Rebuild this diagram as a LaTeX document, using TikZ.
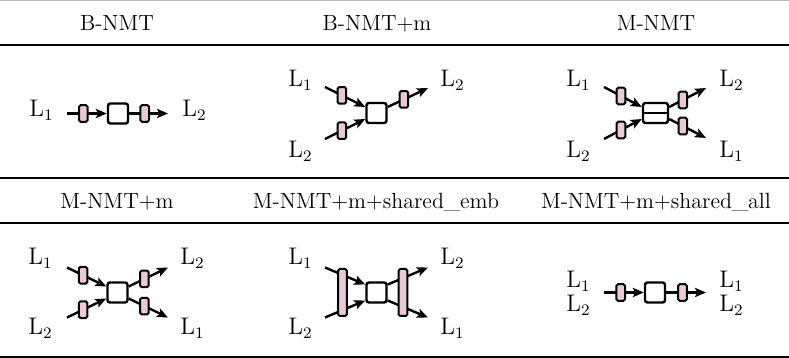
\documentclass[tikz,border=0pt]{standalone}
\usetikzlibrary{arrows.meta,calc}
\definecolor{embpink}{RGB}{235,200,214}
\tikzset{
  lbl/.style={inner sep=0pt, anchor=base west, font=\fontsize{11.5}{13}\selectfont},
  hdr/.style={inner sep=0pt, anchor=base, font=\fontsize{11}{13}\selectfont},
  rulez/.style={line width=1pt},
  emb/.style={draw, line width=1pt, fill=embpink, rounded corners=0.8pt, minimum width=4.3pt, minimum height=8.3pt, inner sep=0pt},
  tallemb/.style={emb, minimum height=23.5pt},
  enc/.style={draw, line width=1.2pt, fill=white, rounded corners=1.2pt, minimum width=10pt, minimum height=10pt, inner sep=0pt},
  wideenc/.style={enc, minimum width=12.5pt},
  conn/.style={line width=1.2pt, -{Stealth[length=5.5pt,width=4.6pt,inset=1.2pt]}},
  plainln/.style={line width=1.2pt},
}
\begin{document}
\begin{tikzpicture}[x=0.5pt,y=-0.5pt]
\useasboundingbox (0,0) rectangle (789,358);
% rules
\draw[line width=0.5pt, gray!55] (0,0.5) -- (789,0.5);
\draw[rulez] (0,45) -- (789,45);
\draw[rulez] (0,178) -- (789,178);
\draw[rulez] (0,223) -- (789,223);
\draw[rulez] (0,357) -- (789,357);
% headers
\node[hdr] (h1) at (117,31) {B-NMT};
\node[hdr] (h2) at (377,31) {B-NMT+m};
\node[hdr] (h3) at (656,31) {M-NMT};
\node[hdr] (h4) at (117,209) {M-NMT+m};
\node[hdr] (h5) at (376,209) {M-NMT+m+shared\_emb};
\node[hdr] (h6) at (656,209) {M-NMT+m+shared\_all};

% ---- Diagram A: B-NMT
\node[enc] (a-sq) at (118,113.5) {};
\coordinate (a-s) at ($(a-sq)+(-51,0)$);
\coordinate (a-t) at ($(a-sq)+(50,0)$);
\draw[conn] (a-s) -- node[emb,pos=.41] (a-e1) {} (a-sq);
\draw[conn] (a-sq) -- node[emb,pos=.4] (a-e2) {} (a-t);
\node[lbl] (a-l1) at (29,117) {$\mathrm{L}_1$};
\node[lbl] (a-l2) at (182,117) {$\mathrm{L}_2$};

% ---- Diagram B: B-NMT+m
\node[enc] (b-sq) at (376.5,113) {};
\coordinate (b-s1) at ($(b-sq)+(-51.5,-26)$);
\coordinate (b-s2) at ($(b-sq)+(-51.5,26)$);
\coordinate (b-t1) at ($(b-sq)+(51.5,-25)$);
\draw[conn] (b-s1) -- node[emb,pos=.42] (b-e1) {} ([yshift=3pt]b-sq.west);
\draw[conn] (b-s2) -- node[emb,pos=.42] (b-e2) {} ([yshift=-3pt]b-sq.west);
\draw[conn] ([yshift=3pt]b-sq.east) -- node[emb,pos=.4] (b-e3) {} (b-t1);
\node[lbl] (b-l1) at (288,87) {$\mathrm{L}_1$};
\node[lbl] (b-l2) at (440,87) {$\mathrm{L}_2$};
\node[lbl] (b-l3) at (288,158) {$\mathrm{L}_2$};

% ---- Diagram C: M-NMT
\node[wideenc] (c-sq) at (655.5,113) {};
\draw[plainln] (c-sq.west) -- (c-sq.east);
\coordinate (c-s1) at ($(c-sq)+(-51.5,-26)$);
\coordinate (c-s2) at ($(c-sq)+(-51.5,26)$);
\coordinate (c-t1) at ($(c-sq)+(50.5,-25)$);
\coordinate (c-t2) at ($(c-sq)+(50.5,25)$);
\draw[conn] (c-s1) -- node[emb,pos=.45] (c-e1) {} ([yshift=3pt]c-sq.west);
\draw[conn] (c-s2) -- node[emb,pos=.45] (c-e2) {} ([yshift=-3pt]c-sq.west);
\draw[conn] ([yshift=3pt]c-sq.east) -- node[emb,pos=.37] (c-e3) {} (c-t1);
\draw[conn] ([yshift=-3pt]c-sq.east) -- node[emb,pos=.37] (c-e4) {} (c-t2);
\node[lbl] (c-l1) at (566,87) {$\mathrm{L}_1$};
\node[lbl] (c-l2) at (719,87) {$\mathrm{L}_2$};
\node[lbl] (c-l3) at (566,158) {$\mathrm{L}_2$};
\node[lbl] (c-l4) at (719,158) {$\mathrm{L}_1$};

% ---- Diagram D: M-NMT+m
\node[enc] (d-sq) at (117.5,292.5) {};
\coordinate (d-s1) at ($(d-sq)+(-50.5,-25)$);
\coordinate (d-s2) at ($(d-sq)+(-50.5,25)$);
\coordinate (d-t1) at ($(d-sq)+(50.5,-25)$);
\coordinate (d-t2) at ($(d-sq)+(50.5,25)$);
\draw[conn] (d-s1) -- node[emb,pos=.41] (d-e1) {} ([yshift=3pt]d-sq.west);
\draw[conn] (d-s2) -- node[emb,pos=.41] (d-e2) {} ([yshift=-3pt]d-sq.west);
\draw[conn] ([yshift=3pt]d-sq.east) -- node[emb,pos=.4] (d-e3) {} (d-t1);
\draw[conn] ([yshift=-3pt]d-sq.east) -- node[emb,pos=.4] (d-e4) {} (d-t2);
\node[lbl] (d-l1) at (28,265) {$\mathrm{L}_1$};
\node[lbl] (d-l2) at (180,265) {$\mathrm{L}_2$};
\node[lbl] (d-l3) at (28,335) {$\mathrm{L}_2$};
\node[lbl] (d-l4) at (180,335) {$\mathrm{L}_1$};

% ---- Diagram E: M-NMT+m+shared_emb
\node[enc] (e-sq) at (376.5,292.5) {};
\coordinate (e-s1) at ($(e-sq)+(-51.5,-25)$);
\coordinate (e-s2) at ($(e-sq)+(-51.5,25)$);
\coordinate (e-t1) at ($(e-sq)+(51.5,-25)$);
\coordinate (e-t2) at ($(e-sq)+(51.5,25)$);
\draw[conn] (e-s1) -- ([yshift=4pt]e-sq.west);
\draw[conn] (e-s2) -- ([yshift=-4pt]e-sq.west);
\draw[conn] ([yshift=4pt]e-sq.east) -- (e-t1);
\draw[conn] ([yshift=-4pt]e-sq.east) -- (e-t2);
\node[tallemb] (e-e1) at ($(e-sq)+(-34,0)$) {};
\node[tallemb] (e-e2) at ($(e-sq)+(26.5,0)$) {};
\node[lbl] (e-l1) at (288,265) {$\mathrm{L}_1$};
\node[lbl] (e-l2) at (440,265) {$\mathrm{L}_2$};
\node[lbl] (e-l3) at (288,335) {$\mathrm{L}_2$};
\node[lbl] (e-l4) at (440,335) {$\mathrm{L}_1$};

% ---- Diagram F: M-NMT+m+shared_all
\node[enc] (f-sq) at (655,292.5) {};
\coordinate (f-s) at ($(f-sq)+(-51,0)$);
\coordinate (f-t) at ($(f-sq)+(51,0)$);
\draw[conn] (f-s) -- node[emb,pos=.42] (f-e1) {} (f-sq);
\draw[conn] (f-sq) -- node[emb,pos=.41] (f-e2) {} (f-t);
\node[lbl] (f-l1) at (566,288) {$\mathrm{L}_1$};
\node[lbl] (f-l2) at (566,312) {$\mathrm{L}_2$};
\node[lbl] (f-l3) at (719,288) {$\mathrm{L}_1$};
\node[lbl] (f-l4) at (719,312) {$\mathrm{L}_2$};
\end{tikzpicture}
\end{document}
